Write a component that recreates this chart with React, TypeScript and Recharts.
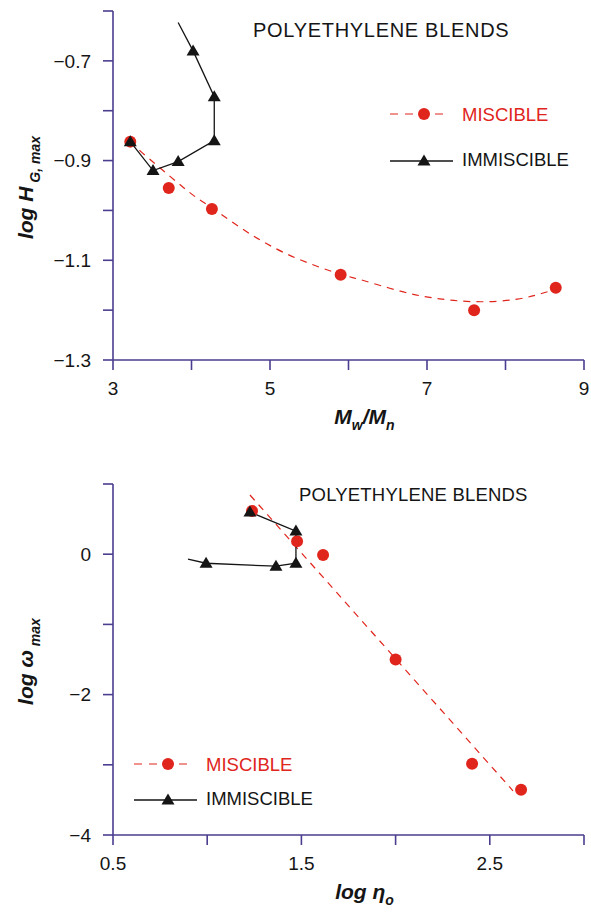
import { ScatterChart, Scatter, XAxis, YAxis, Legend, Label, Customized } from 'recharts';

const FONT = '"Liberation Sans", Arial, Helvetica, sans-serif';
const AXIS = '#4b3d8f';
const RED = '#e0251c';
const INK = '#151515';

// top panel: log H_G,max against Mw/Mn
const topMiscible = [
  { x: 3.22, y: -0.862 },
  { x: 3.71, y: -0.955 },
  { x: 4.26, y: -0.997 },
  { x: 5.9, y: -1.129 },
  { x: 7.6, y: -1.2 },
  { x: 8.64, y: -1.155 },
];
const topMiscibleFit = [
  { x: 3.22, y: -0.862 },
  { x: 3.37, y: -0.884 },
  { x: 3.82, y: -0.944 },
  { x: 4.07, y: -0.975 },
  { x: 4.26, y: -0.995 },
  { x: 4.6, y: -1.032 },
  { x: 4.96, y: -1.067 },
  { x: 5.4, y: -1.1 },
  { x: 5.9, y: -1.128 },
  { x: 6.2, y: -1.141 },
  { x: 6.66, y: -1.162 },
  { x: 7.1, y: -1.176 },
  { x: 7.6, y: -1.183 },
  { x: 8.15, y: -1.178 },
  { x: 8.6, y: -1.16 },
];
const topImmiscibleStart = [{ x: 3.83, y: -0.623 }];
const topImmiscible = [
  { x: 4.02, y: -0.68 },
  { x: 4.29, y: -0.772 },
  { x: 4.29, y: -0.86 },
  { x: 3.83, y: -0.902 },
  { x: 3.51, y: -0.92 },
  { x: 3.22, y: -0.862 },
];
const topXTicks = [3, 4, 5, 6, 7, 8, 9];
const topXLabels = [3, 5, 7, 9];
const topYTicks = [-1.3, -1.2, -1.1, -1.0, -0.9, -0.8, -0.7, -0.6];
const topYLabels = [-1.3, -1.1, -0.9, -0.7];

// bottom panel: log w_max against log eta_o
const botMiscible = [
  { x: 1.238, y: 0.614 },
  { x: 1.477, y: 0.186 },
  { x: 1.615, y: -0.01 },
  { x: 2.0, y: -1.5 },
  { x: 2.406, y: -2.986 },
  { x: 2.666, y: -3.357 },
];
const botMiscibleFit = [
  { x: 1.227, y: 0.843 },
  { x: 2.623, y: -3.37 },
];
const botImmiscibleStart = [{ x: 0.898, y: -0.071 }];
const botImmiscible = [
  { x: 0.994, y: -0.129 },
  { x: 1.365, y: -0.171 },
  { x: 1.471, y: -0.129 },
  { x: 1.471, y: 0.329 },
  { x: 1.227, y: 0.6 },
];
const botXTicks = [0.5, 1, 1.5, 2, 2.5, 3];
const botXLabels = [0.5, 1.5, 2.5];
const botYTicks = [-4, -3, -2, -1, 0, 1];
const botYLabels = [-4, -2, 0];

const fmt = (labels: number[]) => (v: number) =>
  labels.some((l) => Math.abs(l - v) < 1e-9) ? String(v).replace('-', '\u2212') : '';

const RedDot = (p: any) => <circle cx={p.cx} cy={p.cy} r={6} fill={RED} />;

const Tri = ({ cx, cy }: any) => (
  <path d={`M${cx},${cy - 6.5} L${cx + 6.5},${cy + 4.5} L${cx - 6.5},${cy + 4.5} Z`} fill={INK} />
);

const NoDot = () => <g />;

function Rich({ parts, size, subSize, shift }: { parts: [string, boolean][]; size: number; subSize: number; shift: number }) {
  let down = false;
  return (
    <>
      {parts.map(([t, sub], i) => {
        let dy = 0;
        if (sub && !down) { dy = shift; down = true; }
        else if (!sub && down) { dy = -shift; down = false; }
        return (
          <tspan key={i} fontSize={sub ? subSize : size} dy={dy}>
            {t}
          </tspan>
        );
      })}
    </>
  );
}

function YTitle({ viewBox, parts }: any) {
  const cx = viewBox.x - 20;
  const cy = viewBox.y + viewBox.height / 2 + 2;
  return (
    <text
      transform={`translate(${cx},${cy}) rotate(-90)`}
      textAnchor="middle"
      fontFamily={FONT}
      fontWeight="bold"
      fontStyle="italic"
      fill={INK}
    >
      <Rich parts={parts} size={21} subSize={14} shift={7} />
    </text>
  );
}

function XTitle({ viewBox, parts }: any) {
  const cx = viewBox.x + viewBox.width / 2 + 16;
  const cy = viewBox.y + 64;
  return (
    <text x={cx} y={cy} textAnchor="middle" fontFamily={FONT} fontWeight="bold" fontStyle="italic" fill={INK}>
      <Rich parts={parts} size={21} subSize={14} shift={6} />
    </text>
  );
}

function Title({ x, y, size, spacing }: { x: number; y: number; size: number; spacing: number }) {
  return (
    <text x={x} y={y} fontSize={size} fill={INK} fontFamily={FONT} letterSpacing={spacing}>
      POLYETHYLENE BLENDS
    </text>
  );
}

function LegendBox({ gap }: { gap: number }) {
  return (
    <svg width={200} height={gap + 30} style={{ display: 'block' }}>
      <line x1={5} x2={58} y1={14} y2={14} stroke={RED} strokeWidth={1.2} strokeDasharray="8 7" />
      <circle cx={39} cy={14} r={6} fill={RED} />
      <text x={77} y={21} fill={RED} fontSize={18.5} fontFamily={FONT}>
        MISCIBLE
      </text>
      <line x1={5} x2={68} y1={14 + gap} y2={14 + gap} stroke={INK} strokeWidth={1.3} />
      <Tri cx={39} cy={14 + gap} />
      <text x={77} y={19 + gap} fill={INK} fontSize={18.5} fontFamily={FONT}>
        IMMISCIBLE
      </text>
    </svg>
  );
}

const axisStyle = {
  axisLine: { stroke: AXIS, strokeWidth: 1.6 },
  tickLine: { stroke: AXIS, strokeWidth: 1.6 },
  tickSize: 10,
  interval: 0 as const,
  allowDataOverflow: true,
};
const tickStyle = { fill: INK, fontSize: 19, fontFamily: FONT };

export default function App() {
  return (
    <div style={{ position: 'absolute', left: 0, top: 0, width: 591, height: 915, background: '#fff' }}>
      <div style={{ position: 'absolute', left: 0, top: 0 }}>
        <ScatterChart width={591} height={450} margin={{ top: 11, right: 7, bottom: 50, left: 53 }}>
          <XAxis
            type="number"
            dataKey="x"
            domain={[3, 9]}
            ticks={topXTicks}
            tickFormatter={fmt(topXLabels)}
            tick={tickStyle}
            tickMargin={12}
            height={40}
            {...axisStyle}
          >
            <Label content={(p: any) => <XTitle viewBox={p.viewBox} parts={[['M', false], ['w', true], ['/M', false], ['n', true]]} />} />
          </XAxis>
          <YAxis
            type="number"
            dataKey="y"
            domain={[-1.3, -0.6]}
            ticks={topYTicks}
            tickFormatter={fmt(topYLabels)}
            tick={tickStyle}
            tickMargin={12}
            width={60}
            {...axisStyle}
          >
            <Label content={(p: any) => <YTitle viewBox={p.viewBox} parts={[['log H', false], [' G, max', true]]} />} />
          </YAxis>
          <Scatter data={topMiscibleFit} shape={NoDot} line={{ stroke: RED, strokeWidth: 1.2, strokeDasharray: '7 6' }} lineJointType="natural" isAnimationActive={false} legendType="none" />
          <Scatter data={[...topImmiscibleStart, ...topImmiscible]} shape={NoDot} line={{ stroke: INK, strokeWidth: 1.3 }} isAnimationActive={false} legendType="none" />
          <Scatter data={topMiscible} shape={RedDot} isAnimationActive={false} legendType="none" />
          <Scatter data={topImmiscible} shape={Tri} isAnimationActive={false} legendType="none" />
          <Legend
            layout="vertical"
            align="center"
            verticalAlign="middle"
            content={() => <LegendBox gap={47} />}
            wrapperStyle={{ left: 385, top: 100, width: 200 }}
          />
          <Customized component={<Title x={253} y={37} size={20} spacing={0.7} />} />
        </ScatterChart>
      </div>
      <div style={{ position: 'absolute', left: 0, top: 450 }}>
        <ScatterChart width={591} height={465} margin={{ top: 34, right: 7, bottom: 40, left: 53 }}>
          <XAxis
            type="number"
            dataKey="x"
            domain={[0.5, 3]}
            ticks={botXTicks}
            tickFormatter={fmt(botXLabels)}
            tick={tickStyle}
            tickMargin={12}
            height={40}
            {...axisStyle}
          >
            <Label content={(p: any) => <XTitle viewBox={p.viewBox} parts={[['log \u03b7', false], ['o', true]]} />} />
          </XAxis>
          <YAxis
            type="number"
            dataKey="y"
            domain={[-4, 1]}
            ticks={botYTicks}
            tickFormatter={fmt(botYLabels)}
            tick={tickStyle}
            tickMargin={12}
            width={60}
            {...axisStyle}
          >
            <Label content={(p: any) => <YTitle viewBox={p.viewBox} parts={[['log \u03c9', false], [' max', true]]} />} />
          </YAxis>
          <Scatter data={botMiscibleFit} shape={NoDot} line={{ stroke: RED, strokeWidth: 1.2, strokeDasharray: '7 6' }} isAnimationActive={false} legendType="none" />
          <Scatter data={[...botImmiscibleStart, ...botImmiscible]} shape={NoDot} line={{ stroke: INK, strokeWidth: 1.3 }} isAnimationActive={false} legendType="none" />
          <Scatter data={botMiscible} shape={RedDot} isAnimationActive={false} legendType="none" />
          <Scatter data={botImmiscible} shape={Tri} isAnimationActive={false} legendType="none" />
          <Legend
            layout="vertical"
            align="center"
            verticalAlign="middle"
            content={() => <LegendBox gap={36} />}
            wrapperStyle={{ left: 129, top: 300, width: 200 }}
          />
          <Customized component={<Title x={299} y={51} size={18.5} spacing={0.2} />} />
        </ScatterChart>
      </div>
    </div>
  );
}
